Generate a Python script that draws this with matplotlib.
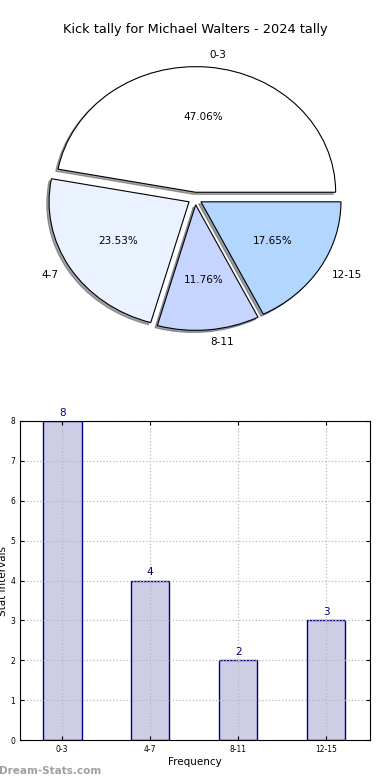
# Kick tally: pie of intervals on top, bar of counts below

import numpy as np
import matplotlib.pyplot as plt

title = "Kick tally for Michael Walters - 2024 tally"
intervals = ["0-3", "4-7", "8-11", "12-15"]
counts = [8, 4, 2, 3]
pie_colors = ["#ffffff", "#eaf1ff", "#c6d5ff", "#b3d6ff"]

fig = plt.figure(figsize=(3.9, 7.8), dpi=100)

# pie (stretched, like the old non-equal-aspect pies)
ax1 = fig.add_axes([20 / 390, 1 - 355.5 / 780, 350 / 390, 314 / 780])
wedges, texts, autotexts = ax1.pie(counts, labels=intervals, colors=pie_colors,
                                   explode=[0.05] * len(counts),
                                   shadow={"ox": -0.012, "oy": -0.012},
                                   autopct="%.2f%%", startangle=0,
                                   wedgeprops={"edgecolor": "black", "linewidth": 0.8},
                                   textprops={"fontsize": 7.5})
ax1.set_aspect("auto")
ax1.set_xlim(-1.25, 1.25)
ax1.set_ylim(-1.25, 1.25)
fig.text(0.5, 1 - 30 / 780, title, ha="center", va="center", fontsize=9.25)

# bars
ax2 = fig.add_axes([20 / 390, 1 - 740 / 780, 350 / 390, 319 / 780])
x = np.arange(len(intervals))
ax2.bar(x, counts, width=0.44, color="#cdcde6", edgecolor="#00008b", linewidth=1)
for xi, c in zip(x, counts):
    ax2.text(xi, c + 0.08, str(c), ha="center", va="bottom", color="#000080", fontsize=7.5)
ax2.set_xlim(-0.48, 3.5)
ax2.set_ylim(0, 8)
ax2.set_xticks(x)
ax2.set_xticklabels(intervals)
ax2.set_yticks(range(0, 9))
ax2.tick_params(direction="in", top=True, right=True, labelsize=5.5, length=3)
ax2.grid(True, linestyle=":", color="#b8b8b8", linewidth=0.9)
ax2.set_axisbelow("line")
ax2.set_xlabel("Frequency", fontsize=7.5, labelpad=2)
ax2.set_ylabel("Stat Intervals", fontsize=7.5)
ax2.yaxis.set_label_coords(-0.034, 0.5)

fig.text(-0.003, 1 - 771 / 780, "Dream-Stats.com", ha="left", va="center",
         color="#a0a0a0", fontsize=7.5, fontweight="bold")

plt.savefig("out.png", dpi=100)
